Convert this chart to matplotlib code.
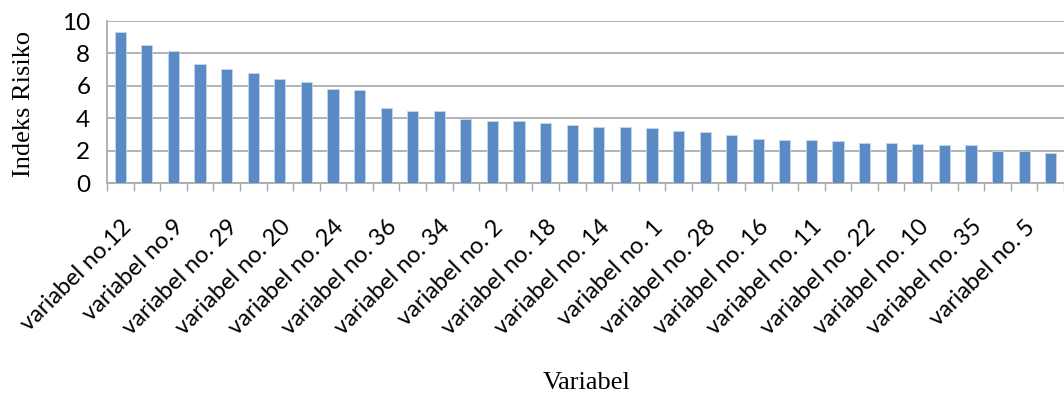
import numpy as np
import matplotlib.pyplot as plt

# Data
variabel = ["variabel no.12", "", "variabel no.9", "", "variabel no. 29", "",
            "variabel no. 20", "", "variabel no. 24", "", "variabel no. 36", "",
            "variabel no. 34", "", "variabel no. 2", "", "variabel no. 18", "",
            "variabel no. 14", "", "variabel no. 1", "", "variabel no. 28", "",
            "variabel no. 16", "", "variabel no. 11", "", "variabel no. 22", "",
            "variabel no. 10", "", "variabel no. 35", "", "variabel no. 5", ""]

indeks_risiko = [9.32, 8.54, 8.12, 7.34, 7.01, 6.78, 6.45, 6.23, 5.82, 5.75,
                 4.64, 4.47, 4.47, 3.96, 3.84, 3.84, 3.69, 3.61, 3.46, 3.46,
                 3.38, 3.22, 3.13, 2.97, 2.74, 2.66, 2.66, 2.57, 2.49, 2.49,
                 2.41, 2.33, 2.33, 2.00, 1.98, 1.83]

yticks = [0, 2, 4, 6, 8, 10]

fig = plt.figure(figsize=(10.64, 3.99), dpi=100)
ax = fig.add_axes([107 / 1064, 1 - 183 / 399, (1064 - 107) / 1064, (183 - 21) / 399])

x = np.arange(len(indeks_risiko))
ax.bar(x, indeks_risiko, width=0.42, color="#5b8bc5", edgecolor="#c5d6ea",
       linewidth=0.6, zorder=3)

ax.set_xlim(-0.5, len(indeks_risiko) - 0.5)
ax.set_ylim(0, 10)
ax.set_yticks(yticks)
ax.set_yticklabels([str(v) for v in yticks], fontfamily="Lato", fontsize=17.5)
ax.yaxis.grid(True, color="#a6a6a6", linewidth=1.2, zorder=0)
ax.tick_params(axis="y", length=0, pad=12)

# category labels on every other bar, ticks between categories
ax.set_xticks(x)
ax.set_xticklabels(variabel, rotation=45, ha="right", va="top",
                   rotation_mode="anchor", fontfamily="Lato", fontsize=17)
ax.tick_params(axis="x", which="major", length=0, pad=24)
ax.set_xticks(np.arange(-0.5, len(indeks_risiko), 1), minor=True)
ax.tick_params(axis="x", which="minor", length=6, color="#a6a6a6", width=1)

for s in ["top", "right"]:
    ax.spines[s].set_visible(False)
ax.spines["left"].set_color("#a6a6a6")
ax.spines["bottom"].set_color("#a6a6a6")
ax.spines["left"].set_linewidth(1.2)
ax.spines["bottom"].set_linewidth(1.2)

fig.text(587 / 1064, 1 - 383 / 399, "Variabel", ha="center", va="center",
         fontfamily="Liberation Serif", fontsize=19)
fig.text(24 / 1064, 1 - 104 / 399, "Indeks Risiko", ha="center", va="center",
         rotation=90, fontfamily="Liberation Serif", fontsize=19)

fig.savefig("out.png", dpi=100)
